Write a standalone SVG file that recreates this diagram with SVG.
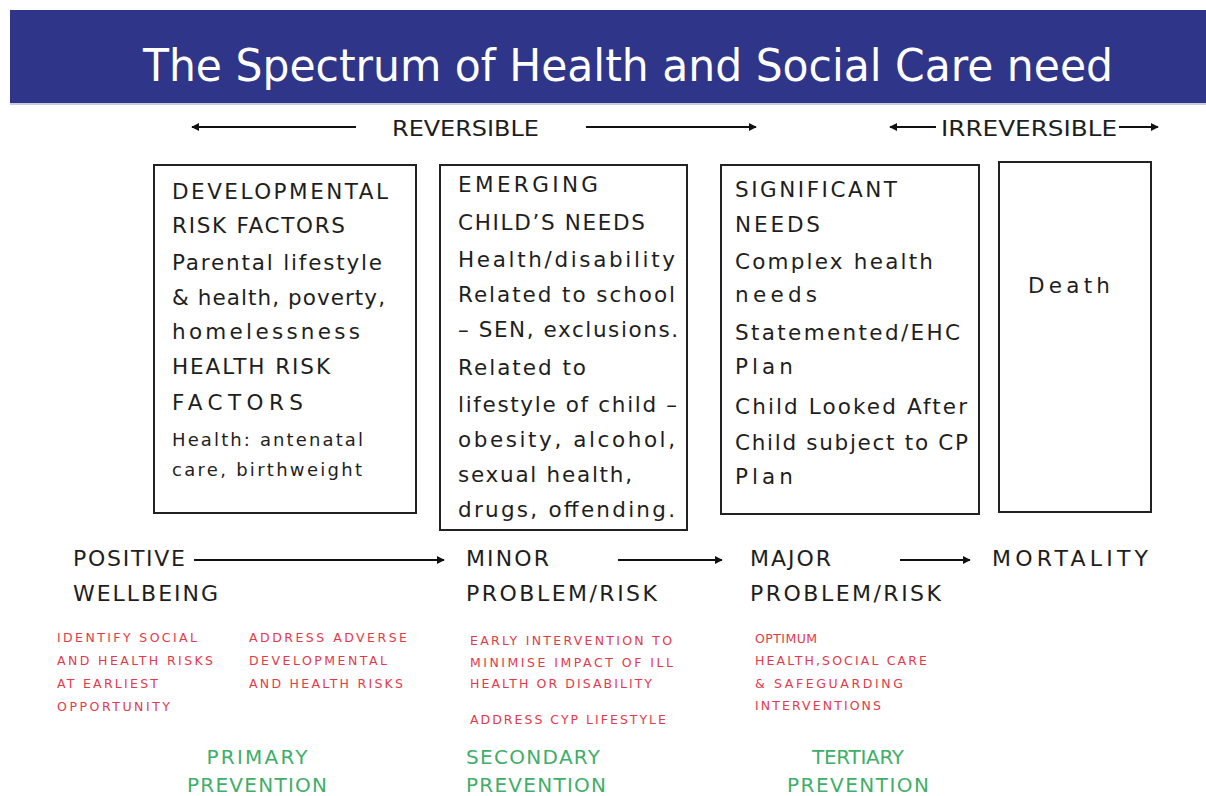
<svg xmlns="http://www.w3.org/2000/svg" width="1206" height="796" viewBox="0 0 1206 796">
<style>
.bg{fill:#ffffff}
.bar{fill:#2f3589}
.title{font-family:"DejaVu Sans Condensed","DejaVu Sans",sans-serif;font-size:45px;fill:#ffffff}
.hdr{font-family:"DejaVu Sans Condensed","DejaVu Sans",sans-serif;font-size:21px;fill:#1e1e1e}
.box{fill:#ffffff;stroke:#222222;stroke-width:2}
.bt{font-family:"DejaVu Sans",sans-serif;font-size:21.5px;fill:#1e1e1e}
.bs{font-family:"DejaVu Sans",sans-serif;font-size:18px;fill:#1e1e1e}
.lbl{font-family:"DejaVu Sans",sans-serif;font-size:22px;fill:#1e1e1e}
.red{font-family:"DejaVu Sans",sans-serif;font-size:12.5px;fill:#e23a4a}
.grn{font-family:"DejaVu Sans",sans-serif;font-size:20px;fill:#3fae68}
.arr{stroke:#111111;stroke-width:2;fill:none;marker-end:url(#ah)}
</style>
<defs>
<marker id="ah" viewBox="0 0 10 10" refX="9" refY="5" markerWidth="4" markerHeight="4" orient="auto" markerUnits="strokeWidth">
<path d="M0,0 L10,5 L0,10 z" fill="#111111"/>
</marker>
</defs>
<rect class="bg" x="0" y="0" width="1206" height="796"/>
<g id="title">
<rect class="bar" x="10" y="10" width="1196" height="93"/>
<line x1="10" y1="104" x2="1206" y2="104" stroke="#b9bdd2" stroke-width="1.5"/>
<text class="title" x="143" y="81" textLength="970" lengthAdjust="spacingAndGlyphs">The Spectrum of Health and Social Care need</text>
</g>
<g id="reversible">
<text class="hdr" x="392" y="136" textLength="147" lengthAdjust="spacingAndGlyphs">REVERSIBLE</text>
</g>
<g id="irreversible">
<text class="hdr" x="941" y="136" textLength="176" lengthAdjust="spacingAndGlyphs">IRREVERSIBLE</text>
</g>
<g id="box-developmental">
<rect class="box" x="154" y="165" width="262" height="348"/>
<text class="bt" x="172" y="199" textLength="216">DEVELOPMENTAL</text>
<text class="bt" x="172" y="233" textLength="173">RISK FACTORS</text>
<text class="bt" x="172" y="270" textLength="210">Parental lifestyle</text>
<text class="bt" x="172" y="305" textLength="213">&amp; health, poverty,</text>
<text class="bt" x="172" y="339" textLength="188">homelessness</text>
<text class="bt" x="172" y="374" textLength="158">HEALTH RISK</text>
<text class="bt" x="172" y="410" textLength="131">FACTORS</text>
<text class="bs" x="172" y="446" textLength="191">Health: antenatal</text>
<text class="bs" x="172" y="476" textLength="190">care, birthweight</text>
</g>
<g id="box-emerging">
<rect class="box" x="440" y="165" width="247" height="365"/>
<text class="bt" x="458" y="192" textLength="140">EMERGING</text>
<text class="bt" x="458" y="230" textLength="187">CHILD’S NEEDS</text>
<text class="bt" x="458" y="267" textLength="217">Health/disability</text>
<text class="bt" x="458" y="302" textLength="217">Related to school</text>
<text class="bt" x="458" y="337" textLength="220">– SEN, exclusions.</text>
<text class="bt" x="458" y="375" textLength="128">Related to</text>
<text class="bt" x="458" y="412" textLength="219">lifestyle of child –</text>
<text class="bt" x="458" y="447" textLength="217">obesity, alcohol,</text>
<text class="bt" x="458" y="482" textLength="174">sexual health,</text>
<text class="bt" x="458" y="517" textLength="217">drugs, offending.</text>
</g>
<g id="box-significant">
<rect class="box" x="721" y="165" width="258" height="349"/>
<text class="bt" x="735" y="197" textLength="162">SIGNIFICANT</text>
<text class="bt" x="735" y="232" textLength="85">NEEDS</text>
<text class="bt" x="735" y="269" textLength="198">Complex health</text>
<text class="bt" x="735" y="302" textLength="82">needs</text>
<text class="bt" x="735" y="340" textLength="225">Statemented/EHC</text>
<text class="bt" x="735" y="374" textLength="58">Plan</text>
<text class="bt" x="735" y="414" textLength="232">Child Looked After</text>
<text class="bt" x="735" y="450" textLength="233">Child subject to CP</text>
<text class="bt" x="735" y="484" textLength="58">Plan</text>
</g>
<g id="box-death">
<rect class="box" x="999" y="162" width="152" height="350"/>
<text class="bt" x="1028" y="293" textLength="82">Death</text>
</g>
<g id="positive-wellbeing">
<text class="lbl" x="73" y="566" textLength="112">POSITIVE</text>
<text class="lbl" x="73" y="601" textLength="145">WELLBEING</text>
<text class="red" x="57" y="642" textLength="140">IDENTIFY SOCIAL</text>
<text class="red" x="57" y="665" textLength="156">AND HEALTH RISKS</text>
<text class="red" x="57" y="688" textLength="101">AT EARLIEST</text>
<text class="red" x="57" y="711" textLength="113">OPPORTUNITY</text>
<text class="red" x="249" y="642" textLength="158">ADDRESS ADVERSE</text>
<text class="red" x="249" y="665" textLength="138">DEVELOPMENTAL</text>
<text class="red" x="249" y="688" textLength="154">AND HEALTH RISKS</text>
<text class="grn" x="257" y="764" text-anchor="middle" textLength="101">PRIMARY</text>
<text class="grn" x="257" y="792" text-anchor="middle" textLength="140">PREVENTION</text>
</g>
<g id="minor-problem">
<text class="lbl" x="466" y="566" textLength="83">MINOR</text>
<text class="lbl" x="466" y="601" textLength="191">PROBLEM/RISK</text>
<text class="red" x="470" y="645" textLength="202">EARLY INTERVENTION TO</text>
<text class="red" x="470" y="667" textLength="203">MINIMISE IMPACT OF ILL</text>
<text class="red" x="470" y="688" textLength="182">HEALTH OR DISABILITY</text>
<text class="red" x="470" y="724" textLength="196">ADDRESS CYP LIFESTYLE</text>
<text class="grn" x="466" y="764" textLength="134">SECONDARY</text>
<text class="grn" x="466" y="792" textLength="140">PREVENTION</text>
</g>
<g id="major-problem">
<text class="lbl" x="750" y="566" textLength="81">MAJOR</text>
<text class="lbl" x="750" y="601" textLength="191">PROBLEM/RISK</text>
<text class="red" x="755" y="643" textLength="62">OPTIMUM</text>
<text class="red" x="755" y="665" textLength="172">HEALTH,SOCIAL CARE</text>
<text class="red" x="755" y="688" textLength="148">&amp; SAFEGUARDING</text>
<text class="red" x="755" y="710" textLength="126">INTERVENTIONS</text>
<text class="grn" x="858" y="764" text-anchor="middle" textLength="92">TERTIARY</text>
<text class="grn" x="858" y="792" text-anchor="middle" textLength="142">PREVENTION</text>
</g>
<g id="mortality">
<text class="lbl" x="992" y="566" textLength="156">MORTALITY</text>
</g>
<g id="connectors">
<line class="arr" x1="356" y1="127" x2="192" y2="127"/>
<line class="arr" x1="586" y1="127" x2="756" y2="127"/>
<line class="arr" x1="936" y1="127" x2="890" y2="127"/>
<line class="arr" x1="1119" y1="127" x2="1158" y2="127"/>
<line class="arr" x1="194" y1="560" x2="444" y2="560"/>
<line class="arr" x1="618" y1="560" x2="722" y2="560"/>
<line class="arr" x1="900" y1="560" x2="970" y2="560"/>
</g>
</svg>
